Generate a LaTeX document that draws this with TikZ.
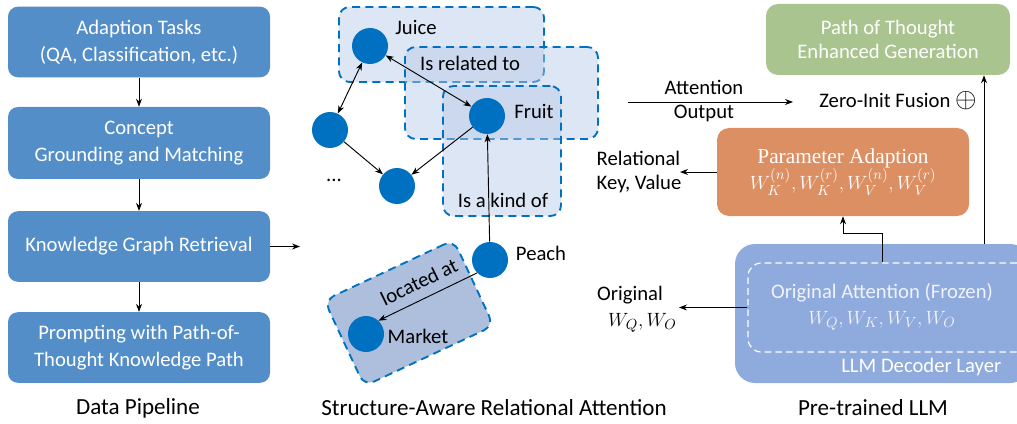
\documentclass[tikz,border=0pt]{standalone}
\usepackage{fontspec}
\setsansfont{Carlito}
\newfontfamily\capserif{Liberation Serif}
\usetikzlibrary{arrows.meta,fit,calc}

\definecolor{pipe}{RGB}{84,142,200}
\definecolor{nodeblue}{RGB}{0,112,192}
\definecolor{grpfill}{RGB}{180,199,231}
\definecolor{mktfill}{RGB}{173,191,221}
\definecolor{gengreen}{RGB}{169,196,142}
\definecolor{adaptorange}{RGB}{220,143,99}
\definecolor{llmblue}{RGB}{143,170,220}
\definecolor{softwhite}{RGB}{240,243,250}

\begin{document}
\begin{tikzpicture}[x=0.75pt,y=-0.75pt,
  font=\sffamily\fontsize{15.5}{20}\selectfont,
  box/.style={fill=pipe, rounded corners=7.5pt, text=white, align=center, inner sep=0pt,
    minimum width=196.5pt, minimum height=53pt},
  grp/.style={draw=nodeblue, line width=1.4pt, dash pattern=on 6pt off 4pt,
    fill=grpfill, fill opacity=0.45, text opacity=1, rounded corners=8pt, inner sep=0pt},
  ent/.style={circle, fill=nodeblue, minimum size=27pt, inner sep=0pt},
  arr/.style={-{Stealth[length=6pt,width=4.5pt]}, line width=0.7pt},
  darr/.style={{Stealth[length=6pt,width=4.5pt]}-{Stealth[length=6pt,width=4.5pt]}, line width=0.7pt},
  captxt/.style={font=\sffamily\fontsize{17.3}{20}\selectfont}]
\useasboundingbox (0,0) rectangle (1017,424);

% ---------- data pipeline ----------
\node[box] (t1) at (139,42) {Adaption Tasks\\(QA, Classification, etc.)};
\node[box, minimum height=54pt] (t2) at (139,143) {Concept\\Grounding and Matching};
\node[box] (t3) at (139,246.5) {Knowledge Graph Retrieval};
\node[box] (t4) at (139,347.5) {Prompting with Path-of-\\Thought Knowledge Path};
\draw[arr] (t1) -- (t2);
\draw[arr] (t2) -- (t3);
\draw[arr] (t3) -- (t4);
\coordinate (kgin) at (300,246.5);
\draw[arr] (t3.east) -- (kgin);
\node[captxt] (capA) at (138,408) {Data Pipeline};

% ---------- relational attention graph ----------
\node[grp, fit={(339,7) (544,82)}] (gjuice) {};
\node[grp, fit={(405,47) (598,139)}] (grel) {};
\node[grp, fit={(443,86) (561,216)}] (gkind) {};
\node[grp, fill=mktfill, fill opacity=1, minimum width=107pt, minimum height=71pt, rotate=25] (gmkt) at (409,313) {};

\node (lrel) at (470,63) {Is related to};
\node (lkind) at (503,200) {Is a kind of};
\node[rotate=26] (lloc) at (419,282) {located at};

\node[ent] (juice) at (370,46) {};
\node[ent] (fruit) at (487,116) {};
\node[ent] (left) at (330,130) {};
\node[ent] (bottom) at (397,186) {};
\node[ent] (peach) at (490,260) {};
\node[ent] (market) at (366,334) {};

\node (ljuice) at (416,27) {Juice};
\node (lfruit) at (534,111) {Fruit};
\node (lpeach) at (541,253) {Peach};
\node (lmarket) at (418,336) {Market};
\node (ldots) at (334,180) {...};

\draw[darr] (juice) -- (left);
\draw[darr] (juice) -- (fruit);
\draw[arr] (left) -- (bottom);
\draw[arr] (fruit) -- (bottom);
\draw[arr] (peach) -- (fruit);
\draw[arr] (peach.225) -- (market.47);

\node[captxt] (capB) at (494,408) {Structure-Aware Relational Attention};

% ---------- pre-trained LLM ----------
\node[fill=gengreen, rounded corners=9pt, text=white, align=center, inner sep=0pt,
  font=\sffamily\fontsize{15.5}{18}\selectfont, minimum width=183pt, minimum height=53.25pt] (gen)
  at (888,39.5) {Path of Thought\\Enhanced Generation};

\node[fill=adaptorange, rounded corners=9pt, text=white, align=center, inner sep=0pt,
  font=\capserif\fontsize{16}{20}\selectfont, minimum width=189pt, minimum height=66pt] (adapt)
  at (843,172) {Parameter Adaption\\\fontsize{15.5}{20}\selectfont$W_K^{(n)}, W_K^{(r)}, W_V^{(n)}, W_V^{(r)}$};

\node[fill=llmblue, rounded corners=15pt, inner sep=0pt, fit={(735,244) (1030,383)}] (llm) {};
\node[draw=white, line width=0.9pt, dash pattern=on 5pt off 3pt, rounded corners=10pt,
  inner sep=0pt, fit={(748,263) (1030,352)}] (orig) {};
\node[text=softwhite, align=center, font=\sffamily\fontsize{15.5}{19.5}\selectfont] (origtxt) at (882,307)
  {Original Attention (Frozen)\\$W_Q, W_K, W_V, W_O$};
\node[text=white, anchor=east] (llmlbl) at (1006,367) {LLM Decoder Layer};

\node (fuse) at (898,101) {Zero-Init Fusion {\fontsize{21}{21}\selectfont$\oplus$}};
\node[align=center, font=\sffamily\fontsize{15.5}{18.5}\selectfont] (attout) at (704,101) {Attention\\Output};
\coordinate (attfrom) at (628,102);
\coordinate (attto) at (793,102);
\draw[arr] (attfrom) -- (attto);

\coordinate (rail) at (984,0);
\draw[arr] (llm.north -| rail) -- (gen.south -| rail);

\node[align=left, anchor=west, font=\sffamily\fontsize{15.5}{18.5}\selectfont] (relkv) at (592,172) {Relational\\Key, Value};
\coordinate (relkvend) at (680,172);
\draw[arr] (adapt.west |- relkvend) -- (relkvend);

\node[align=center, font=\sffamily\fontsize{15.5}{19.5}\selectfont] (origwq) at (630,309) {Original\\\hspace*{1.2em}$W_Q, W_O$};
\coordinate (origend) at (679,307.5);
\draw[arr] (orig.west |- origend) -- (origend);

\coordinate (upA) at (882,233);
\coordinate (upB) at (843,233);
\draw[arr] (orig.north -| upA) -- (upA) -- (upB) -- (adapt.south -| upB);

\node[captxt] (capC) at (873,408) {Pre-trained LLM};
\end{tikzpicture}
\end{document}
